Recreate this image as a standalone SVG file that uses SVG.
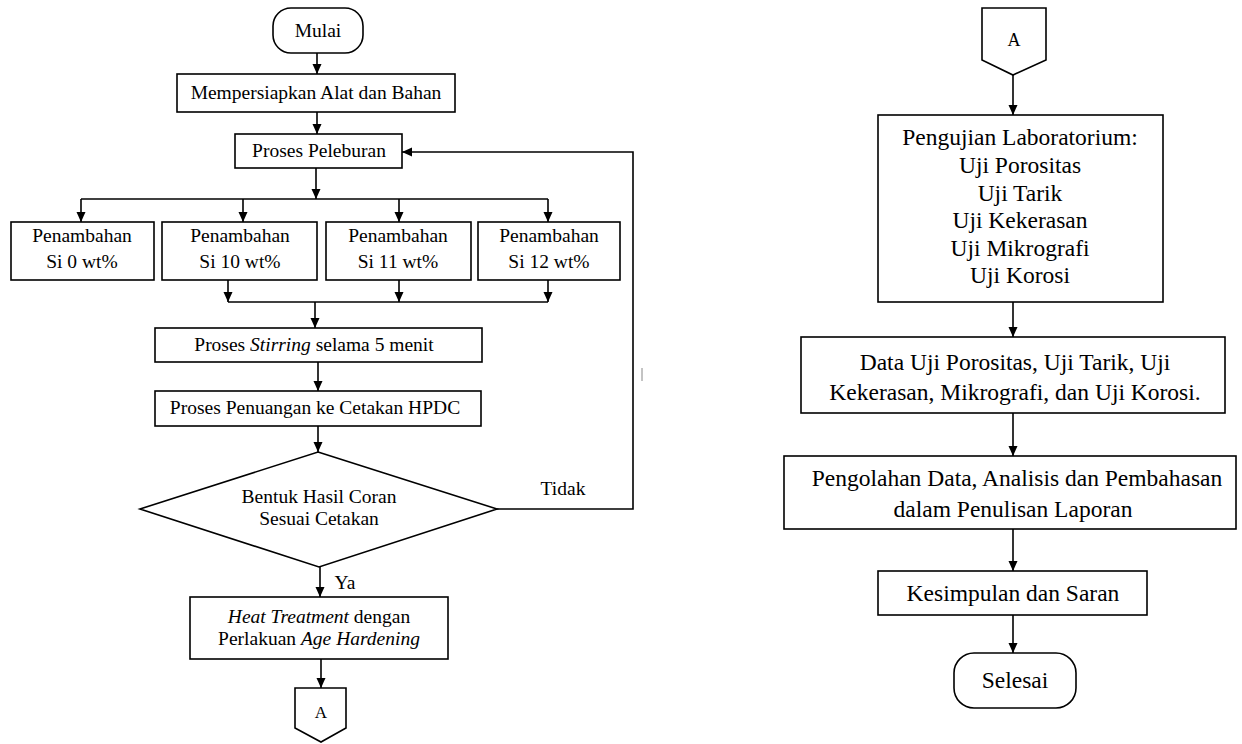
<svg xmlns="http://www.w3.org/2000/svg" width="1242" height="744" viewBox="0 0 1242 744">
<style>
.box{fill:#fff;stroke:#000;stroke-width:1.6}
.ln{fill:none;stroke:#000;stroke-width:1.6}
.t{font-family:"Liberation Serif","Times New Roman",serif;font-size:19.5px;fill:#000;text-anchor:middle}
.tr{font-family:"Liberation Serif","Times New Roman",serif;font-size:23.5px;fill:#000;text-anchor:middle}
.it{font-style:italic}
</style>
<defs>
<marker id="ah" markerUnits="userSpaceOnUse" markerWidth="10" markerHeight="10" viewBox="0 0 10 10" refX="10" refY="5" orient="auto">
<path d="M0,0.5 L10,5 L0,9.5 Z" fill="#000"/>
</marker>
</defs>
<rect width="1242" height="744" fill="#fff"/>

<g id="connectors">
<line class="ln" x1="317" y1="53" x2="317" y2="74" marker-end="url(#ah)"/>
<line class="ln" x1="317" y1="112" x2="317" y2="134" marker-end="url(#ah)"/>
<line class="ln" x1="316" y1="168" x2="316" y2="199" marker-end="url(#ah)"/>
<line class="ln" x1="81" y1="199" x2="548" y2="199"/>
<line class="ln" x1="81" y1="199" x2="81" y2="222" marker-end="url(#ah)"/>
<line class="ln" x1="243" y1="199" x2="243" y2="222" marker-end="url(#ah)"/>
<line class="ln" x1="399" y1="199" x2="399" y2="222" marker-end="url(#ah)"/>
<line class="ln" x1="548" y1="199" x2="548" y2="222" marker-end="url(#ah)"/>
<line class="ln" x1="228" y1="280" x2="228" y2="302" marker-end="url(#ah)"/>
<line class="ln" x1="399" y1="280" x2="399" y2="302" marker-end="url(#ah)"/>
<line class="ln" x1="548" y1="280" x2="548" y2="302" marker-end="url(#ah)"/>
<line class="ln" x1="228" y1="302" x2="548" y2="302"/>
<line class="ln" x1="315" y1="302" x2="315" y2="328" marker-end="url(#ah)"/>
<line class="ln" x1="318" y1="362" x2="318" y2="391" marker-end="url(#ah)"/>
<line class="ln" x1="318" y1="426" x2="318" y2="452" marker-end="url(#ah)"/>
<line class="ln" x1="320" y1="567" x2="320" y2="597" marker-end="url(#ah)"/>
<line class="ln" x1="321" y1="659" x2="321" y2="688" marker-end="url(#ah)"/>
<polyline class="ln" points="497,509 633,509 633,152 402,152" marker-end="url(#ah)"/>
<line x1="642" y1="368" x2="642" y2="381" stroke="#888" stroke-width="1"/>
<line class="ln" x1="1013" y1="75" x2="1013" y2="115" marker-end="url(#ah)"/>
<line class="ln" x1="1013" y1="302" x2="1013" y2="337" marker-end="url(#ah)"/>
<line class="ln" x1="1013" y1="413" x2="1013" y2="456" marker-end="url(#ah)"/>
<line class="ln" x1="1013" y1="529" x2="1013" y2="571" marker-end="url(#ah)"/>
<line class="ln" x1="1013" y1="615" x2="1013" y2="653" marker-end="url(#ah)"/>
<text class="t" x="563" y="495">Tidak</text>
<text class="t" x="345" y="589">Ya</text>
</g>

<g id="mulai">
<rect class="box" x="273" y="8" width="90" height="45" rx="18"/>
<text class="t" x="318" y="37">Mulai</text>
</g>
<g id="persiapan">
<rect class="box" x="177" y="74" width="278" height="38"/>
<text class="t" x="316" y="99">Mempersiapkan Alat dan Bahan</text>
</g>
<g id="peleburan">
<rect class="box" x="235" y="134" width="167" height="34"/>
<text class="t" x="319" y="157">Proses Peleburan</text>
</g>
<g id="si0">
<rect class="box" x="11" y="222" width="143" height="58"/>
<text class="t" x="82" y="242">Penambahan</text>
<text class="t" x="82" y="268">Si 0 wt%</text>
</g>
<g id="si10">
<rect class="box" x="162" y="222" width="155" height="58"/>
<text class="t" x="240" y="242">Penambahan</text>
<text class="t" x="240" y="268">Si 10 wt%</text>
</g>
<g id="si11">
<rect class="box" x="326" y="222" width="145" height="58"/>
<text class="t" x="398" y="242">Penambahan</text>
<text class="t" x="398" y="268">Si 11 wt%</text>
</g>
<g id="si12">
<rect class="box" x="478" y="222" width="142" height="58"/>
<text class="t" x="549" y="242">Penambahan</text>
<text class="t" x="549" y="268">Si 12 wt%</text>
</g>
<g id="stirring">
<rect class="box" x="155" y="328" width="327" height="34"/>
<text class="t" x="314" y="351">Proses <tspan class="it">Stirring</tspan> selama 5 menit</text>
</g>
<g id="penuangan">
<rect class="box" x="155" y="391" width="326" height="35"/>
<text class="t" x="315" y="414">Proses Penuangan ke Cetakan HPDC</text>
</g>
<g id="keputusan">
<polygon class="box" points="318,452 497,509 319,567 140,509"/>
<text class="t" x="319" y="503">Bentuk Hasil Coran</text>
<text class="t" x="319" y="525">Sesuai Cetakan</text>
</g>
<g id="heat">
<rect class="box" x="190" y="597" width="258" height="62"/>
<text class="t" x="319" y="623"><tspan class="it">Heat Treatment</tspan> dengan</text>
<text class="t" x="319" y="645">Perlakuan <tspan class="it">Age Hardening</tspan></text>
</g>
<g id="konektor-a1">
<polygon class="box" points="295,688 346,688 346,728 321,742 295,728"/>
<text class="t" x="321" y="718" style="font-size:17px">A</text>
</g>

<g id="konektor-a2">
<polygon class="box" points="982,8 1046,8 1046,60 1013,75 982,60"/>
<text class="t" x="1014" y="46" style="font-size:18px">A</text>
</g>
<g id="laboratorium">
<rect class="box" x="878" y="115" width="285" height="187"/>
<text class="tr" x="1020" y="145">Pengujian Laboratorium:</text>
<text class="tr" x="1020" y="173">Uji Porositas</text>
<text class="tr" x="1020" y="201">Uji Tarik</text>
<text class="tr" x="1020" y="228">Uji Kekerasan</text>
<text class="tr" x="1020" y="256">Uji Mikrografi</text>
<text class="tr" x="1020" y="283">Uji Korosi</text>
</g>
<g id="data">
<rect class="box" x="801" y="337" width="424" height="76"/>
<text class="tr" x="1015" y="370">Data Uji Porositas, Uji Tarik, Uji</text>
<text class="tr" x="1015" y="400">Kekerasan, Mikrografi, dan Uji Korosi.</text>
</g>
<g id="pengolahan">
<rect class="box" x="784" y="456" width="452" height="73"/>
<text class="tr" x="1017" y="486">Pengolahan Data, Analisis dan Pembahasan</text>
<text class="tr" x="1013" y="517">dalam Penulisan Laporan</text>
</g>
<g id="kesimpulan">
<rect class="box" x="878" y="571" width="269" height="44"/>
<text class="tr" x="1013" y="601">Kesimpulan dan Saran</text>
</g>
<g id="selesai">
<rect class="box" x="954" y="653" width="122" height="55" rx="20"/>
<text class="tr" x="1015" y="688">Selesai</text>
</g>
</svg>
